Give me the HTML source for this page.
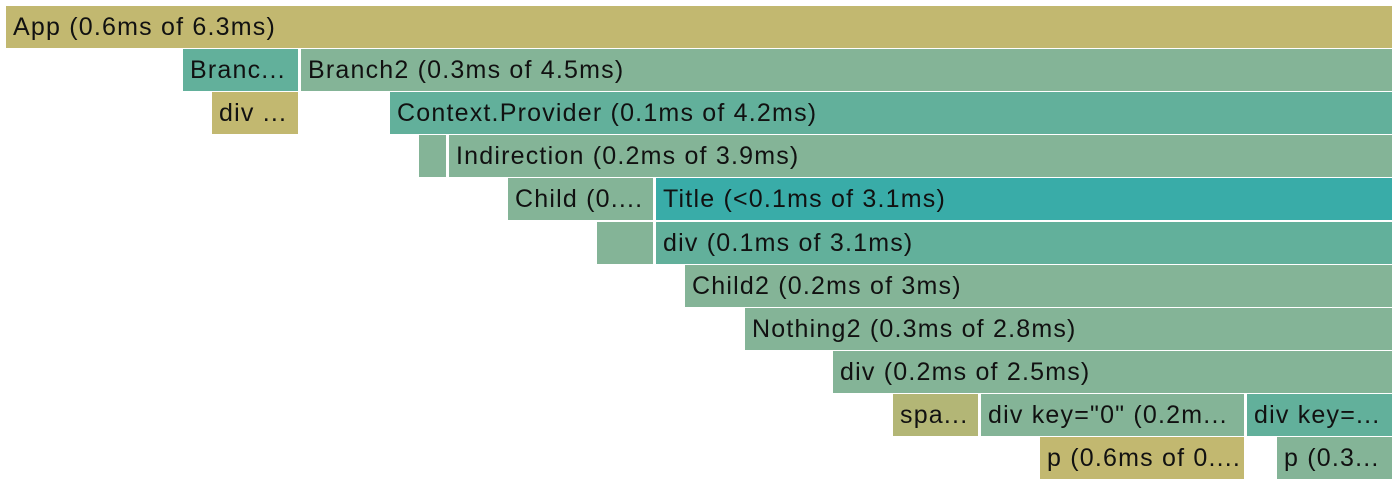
<!DOCTYPE html>
<html><head><meta charset="utf-8"><style>
body{margin:0;width:1400px;height:491px;background:#fff;position:relative;overflow:hidden;font-family:"Liberation Sans",sans-serif}
.b{position:absolute;height:42px;line-height:43px;font-size:25px;letter-spacing:1.2px;color:#111;padding-left:7px;box-sizing:border-box;white-space:nowrap;overflow:hidden}
</style></head><body>
<div id="g"></div>
<script>
const labels=["App (0.6ms of 6.3ms)","Branc...","Branch2 (0.3ms of 4.5ms)","div ...","Context.Provider (0.1ms of 4.2ms)","","Indirection (0.2ms of 3.9ms)","Child (0....","Title (<0.1ms of 3.1ms)","","div (0.1ms of 3.1ms)","Child2 (0.2ms of 3ms)","Nothing2 (0.3ms of 2.8ms)","div (0.2ms of 2.5ms)","spa...","div key=\"0\" (0.2m...","div key=...","p (0.6ms of 0....","p (0.3..."];
const depths=[0,1,1,2,2,3,3,4,4,5,5,6,7,8,9,9,9,10,10];
const starts=[6,183,301,212,390,419,449,508,656,597,656,685,745,833,893,981,1247,1040,1277];
const ends=[1392,298,1392,298,1392,446,1392,653,1392,653,1392,1392,1392,1392,978,1244,1392,1244,1392];
const kinds=["k","t","g","k","t","g","g","g","c","g","t","g","g","g","s","g","t","k","g"];
const colors={k:"#c2b870",t:"#62b09b",g:"#84b497",c:"#39aca8",s:"#b3b676"};
const g=document.getElementById('g');
labels.forEach((l,i)=>{
const d=document.createElement('div');
d.className='b';


d.style.left=starts[i]+'px';
d.style.width=(ends[i]-starts[i])+'px';
d.style.top=(6+depths[i]*43.1)+'px';
d.style.background=colors[kinds[i]];
d.textContent=l;
g.appendChild(d);
});
</script>
</body></html>
